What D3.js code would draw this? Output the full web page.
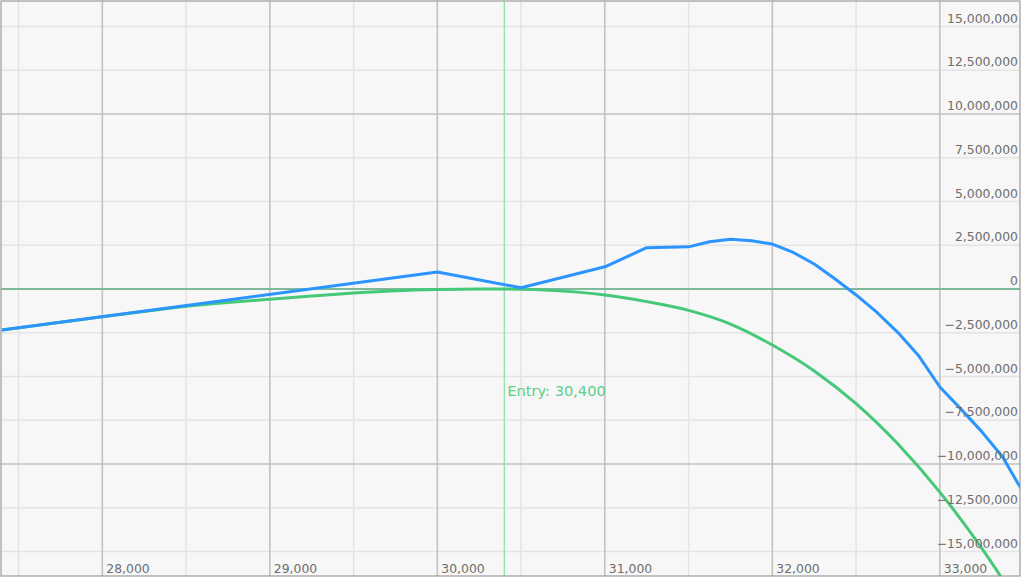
<!DOCTYPE html>
<html><head><meta charset="utf-8">
<script src="https://cdn.jsdelivr.net/npm/d3@7"></script>
<style>
html,body{margin:0;padding:0;background:#fff;}
svg{display:block;}
text{font-family:"DejaVu Sans",Verdana,sans-serif;}
</style></head>
<body><svg id="chart" width="1024" height="578"></svg>
<script>
// ---- data ----
const blueX = [27400, 30000, 30500, 31000, 31250, 31500, 31625, 31750, 31875, 32000, 32125, 32250, 32375, 32500, 32625, 32750, 32875, 33000, 33125, 33250, 33375, 33500];
const blueY = [-2.34, 0.97, 0.07, 1.27, 2.36, 2.41, 2.70, 2.84, 2.76, 2.57, 2.09, 1.43, 0.57, -0.34, -1.34, -2.49, -3.83, -5.6, -6.85, -8.15, -9.6, -11.66];
const greenX = [27400, 27750, 28000, 28250, 28500, 28750, 29000, 29250, 29500, 29750, 30000, 30250, 30400, 30500, 30750, 31000, 31250, 31500, 31750, 32000, 32250, 32500, 32750, 33000, 33250, 33500];
const greenY = [-2.34, -1.90, -1.58, -1.28, -0.99, -0.77, -0.58, -0.40, -0.23, -0.10, -0.03, 0, 0, -0.02, -0.12, -0.34, -0.72, -1.22, -2.0, -3.2, -4.68, -6.55, -8.86, -11.61, -14.81, -18.45];
const entryPrice = 30400;
const entryLabel = "Entry: 30,400";
const xTickValues = [28000, 29000, 30000, 31000, 32000, 33000];
const yTickValues = [15, 12.5, 10, 7.5, 5, 2.5, 0, -2.5, -5, -7.5, -10, -12.5, -15];

// ---- layout ----
const svg = d3.select("#chart");
const L = 1, R = 1020, T = 1, B = 576;
const x = d3.scaleLinear().domain([27395, 27395 + (R - L) / 0.1675]).range([L, R]);
const y = d3.scaleLinear().domain([-16.4, 16.46]).range([B, T]);
const fmt = d3.format(",");

svg.append("rect").attr("x", 0).attr("y", 0).attr("width", 1024).attr("height", 578).attr("fill", "#ffffff");
svg.append("rect").attr("x", L).attr("y", T).attr("width", R - L).attr("height", B - T).attr("fill", "#f7f7f7");

svg.append("defs").append("clipPath").attr("id", "clip")
  .append("rect").attr("x", L).attr("y", T).attr("width", R - L).attr("height", B - T);

const g = svg.append("g").attr("clip-path", "url(#clip)");

// minor grid
const xMinor = d3.range(27500, 33501, 500).filter(v => v % 1000 !== 0);
const yMinor = yTickValues.filter(v => v % 10 !== 0);
g.selectAll(".xm").data(xMinor).enter().append("line")
  .attr("x1", d => x(d)).attr("x2", d => x(d)).attr("y1", T).attr("y2", B)
  .attr("stroke", "#e4e4e4").attr("stroke-width", 1.5);
g.selectAll(".ym").data(yMinor).enter().append("line")
  .attr("x1", L).attr("x2", R).attr("y1", d => y(d)).attr("y2", d => y(d))
  .attr("stroke", "#e4e4e4").attr("stroke-width", 1.5);
// major grid
g.selectAll(".xM").data(xTickValues).enter().append("line")
  .attr("x1", d => x(d)).attr("x2", d => x(d)).attr("y1", T).attr("y2", B)
  .attr("stroke", "#c2c2c2").attr("stroke-width", 1.6);
g.selectAll(".yM").data(yTickValues.filter(v => v % 10 === 0 && v !== 0)).enter().append("line")
  .attr("x1", L).attr("x2", R).attr("y1", d => y(d)).attr("y2", d => y(d))
  .attr("stroke", "#c2c2c2").attr("stroke-width", 1.6);
// zero line
g.append("line").attr("x1", L).attr("x2", R).attr("y1", y(0)).attr("y2", y(0))
  .attr("stroke", "#7fb99c").attr("stroke-width", 1.8);

// entry line
g.append("line").attr("x1", x(entryPrice)).attr("x2", x(entryPrice)).attr("y1", T).attr("y2", B)
  .attr("stroke", "#93e2ad").attr("stroke-width", 1.4);

// series
const greenData = greenX.map((v, i) => [v, greenY[i]]);
const blueData = blueX.map((v, i) => [v, blueY[i]]);
g.append("path").datum(greenData)
  .attr("d", d3.line().x(d => x(d[0])).y(d => y(d[1])).curve(d3.curveMonotoneX))
  .attr("fill", "none").attr("stroke", "#45c878").attr("stroke-width", 3).attr("stroke-linejoin", "round");
g.append("path").datum(blueData)
  .attr("d", d3.line().x(d => x(d[0])).y(d => y(d[1])))
  .attr("fill", "none").attr("stroke", "#2b94ff").attr("stroke-width", 3).attr("stroke-linejoin", "round");

// entry label
svg.append("text").attr("x", x(entryPrice) + 3).attr("y", 396)
  .attr("fill", "#5ccf8a").attr("font-size", 14.6).text(entryLabel);

// axis labels
svg.selectAll(".yl").data(yTickValues).enter().append("text")
  .attr("x", 1018).attr("y", d => y(d) - 4).attr("text-anchor", "end")
  .attr("font-size", 12.4).attr("fill", "#6e6e6e").text(d => fmt(Math.round(d * 1e6)));
svg.selectAll(".xl").data(xTickValues).enter().append("text")
  .attr("x", d => x(d) + 4).attr("y", 573)
  .attr("font-size", 12.4).attr("fill", "#6e6e6e").text(d => fmt(d));

// border
svg.append("rect").attr("x", L).attr("y", T).attr("width", R - L).attr("height", B - T)
  .attr("fill", "none").attr("stroke", "#9a9a9a").attr("stroke-width", 1.2);
</script></body></html>
